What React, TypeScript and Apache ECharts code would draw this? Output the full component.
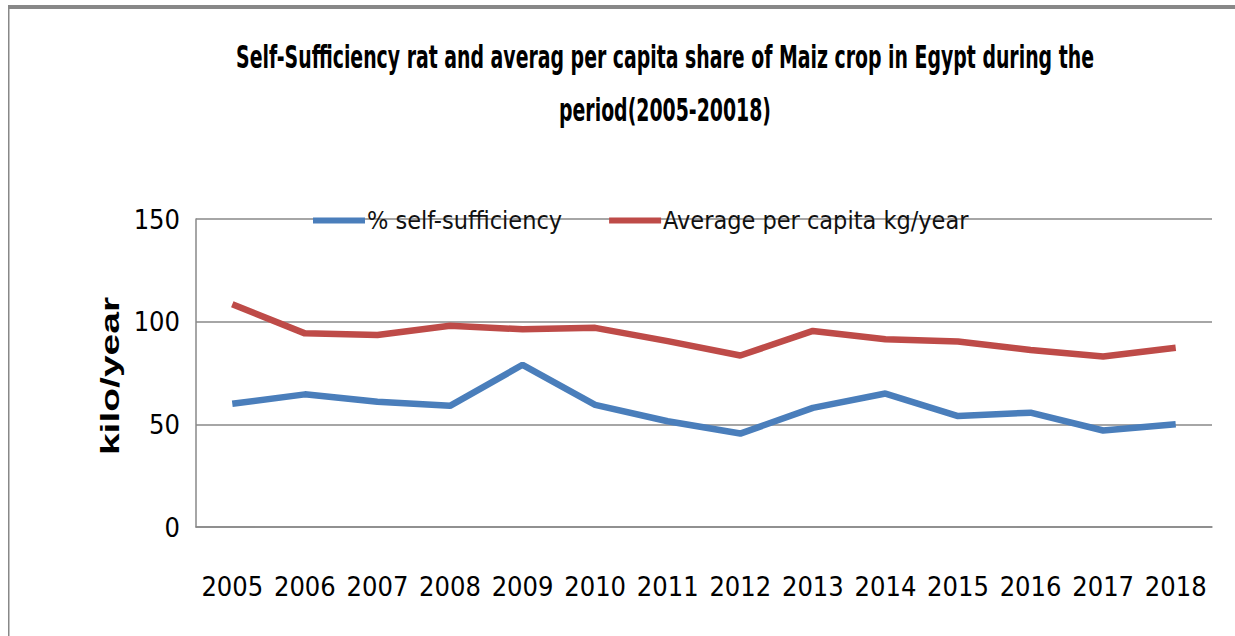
import React, { useEffect, useRef } from "react";
import * as echarts from "echarts";

const years = ["2005", "2006", "2007", "2008", "2009", "2010", "2011", "2012", "2013", "2014", "2015", "2016", "2017", "2018"];
const selfSufficiency = [60, 64.6, 61, 59, 79, 59.5, 51.5, 45.5, 58, 65, 54, 55.7, 47, 50];
const perCapita = [108.5, 94.3, 93.5, 98, 96.3, 97, 90.5, 83.5, 95.5, 91.4, 90.3, 86.2, 83, 87.3];
const seriesNames = ["% self-sufficiency", "Average per capita kg/year"];
const titleLines = [
  "Self-Sufficiency rat and averag per capita share of Maiz crop in Egypt during the",
  "period(2005-20018)",
];
const yAxisName = "kilo/year";

const COND = '"DejaVu Sans Condensed", "Liberation Sans Narrow", sans-serif';

export default function App() {
  const ref = useRef<HTMLDivElement>(null);
  useEffect(() => {
    if (!ref.current) return;
    const chart = echarts.init(ref.current, null, { renderer: "svg" });
    chart.setOption({
      animation: false,
      backgroundColor: "#fff",
      graphic: [
        { type: "rect", shape: { x: 8, y: 5, width: 1227, height: 4 }, style: { fill: "#888" }, silent: true },
        { type: "rect", shape: { x: 8, y: 5, width: 1.5, height: 631 }, style: { fill: "#888" }, silent: true },
        {
          type: "text", x: 665, y: 57, scaleY: 1.55,
          style: { text: titleLines[0], textAlign: "center", textVerticalAlign: "middle", fontFamily: COND, fontWeight: "bold", fontSize: 21, fill: "#000" },
        },
        {
          type: "text", x: 665, y: 110, scaleY: 1.55,
          style: { text: titleLines[1], textAlign: "center", textVerticalAlign: "middle", fontFamily: COND, fontWeight: "bold", fontSize: 21, fill: "#000" },
        },
        {
          type: "text", x: 110, y: 376, rotation: Math.PI / 2, scaleX: 1.5,
          style: { text: yAxisName, textAlign: "center", textVerticalAlign: "middle", fontFamily: '"Liberation Sans", Arial, sans-serif', fontWeight: "bold", fontSize: 26, fill: "#000" },
        },
      ],
      legend: {
        left: 308,
        top: 203,
        icon: "rect",
        itemWidth: 52,
        itemHeight: 6,
        itemGap: 47,
        textStyle: { fontFamily: COND, fontSize: 25, color: "#111", padding: [0, 0, 0, -3] },
        data: seriesNames,
      },
      grid: { left: 196, right: 23, top: 219, bottom: 109, containLabel: false },
      xAxis: {
        type: "category",
        data: years,
        boundaryGap: true,
        axisLine: { lineStyle: { color: "#888", width: 1.5 } },
        axisTick: { show: false },
        axisLabel: { fontFamily: COND, fontSize: 27, color: "#000", margin: 46, interval: 0 },
      },
      yAxis: {
        type: "value",
        min: 0,
        max: 150,
        interval: 50,
        axisLine: { show: true, lineStyle: { color: "#888", width: 1.5 } },
        axisTick: { show: false },
        splitLine: { lineStyle: { color: "#888", width: 1.5 } },
        axisLabel: { fontFamily: COND, fontSize: 27, color: "#000", margin: 16 },
      },
      series: [
        {
          name: seriesNames[0],
          type: "line",
          data: selfSufficiency,
          symbol: "none",
          color: "#4A7EBB",
          lineStyle: { width: 6.5, color: "#4A7EBB" },
        },
        {
          name: seriesNames[1],
          type: "line",
          data: perCapita,
          symbol: "none",
          color: "#BE4B48",
          lineStyle: { width: 6.5, color: "#BE4B48" },
        },
      ],
    });
    return () => chart.dispose();
  }, []);
  return <div ref={ref} style={{ position: "fixed", left: 0, top: 0, width: 1235, height: 636 }} />;
}
